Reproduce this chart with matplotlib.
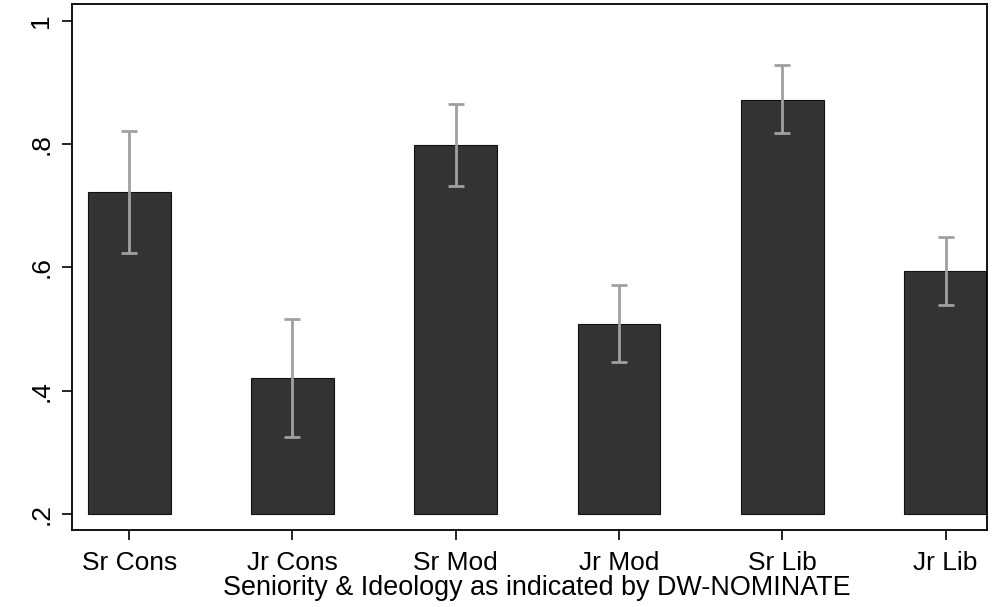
import numpy as np
import matplotlib.pyplot as plt

plt.rcParams['font.family'] = ['Liberation Sans', 'DejaVu Sans']

groups = ['Sr Cons', 'Jr Cons', 'Sr Mod', 'Jr Mod', 'Sr Lib', 'Jr Lib']
means = [0.722, 0.421, 0.799, 0.509, 0.872, 0.594]
lower = [0.624, 0.325, 0.733, 0.446, 0.818, 0.539]
upper = [0.821, 0.516, 0.866, 0.571, 0.928, 0.649]
yticks = [0.2, 0.4, 0.6, 0.8, 1.0]
ytick_labels = ['.2', '.4', '.6', '.8', '1']
base = 0.2

fig = plt.figure(figsize=(9.95, 6.07), dpi=100)
ax = fig.add_axes([0.0724, 0.1269, 0.9196, 0.8665])

x = np.arange(len(groups))
heights = np.array(means) - base
ax.bar(x, heights, bottom=base, width=0.508, color='#333333',
       edgecolor='#111111', linewidth=0.8, zorder=2)

m = np.array(means)
err = [m - np.array(lower), np.array(upper) - m]
ax.errorbar(x, m, yerr=err, fmt='none', ecolor='#a0a0a0', elinewidth=2,
            capsize=6, capthick=2, zorder=3)

ax.set_xlim(-0.35, 5.254)
ax.set_ylim(0.174, 1.0276)
ax.set_yticks(yticks)
ax.set_yticklabels(ytick_labels, rotation=90, va='center')
ax.set_xticks(x)
ax.set_xticklabels(groups)
ax.tick_params(axis='both', labelsize=19, length=7.5, width=1.2, colors='black')
ax.tick_params(axis='y', pad=6)
ax.tick_params(axis='x', pad=8)
for s in ax.spines.values():
    s.set_linewidth(1.3)
ax.set_xlabel('Seniority & Ideology as indicated by DW-NOMINATE', fontsize=19.4,
              labelpad=0, x=0.508)

fig.savefig('out.png', dpi=100)
